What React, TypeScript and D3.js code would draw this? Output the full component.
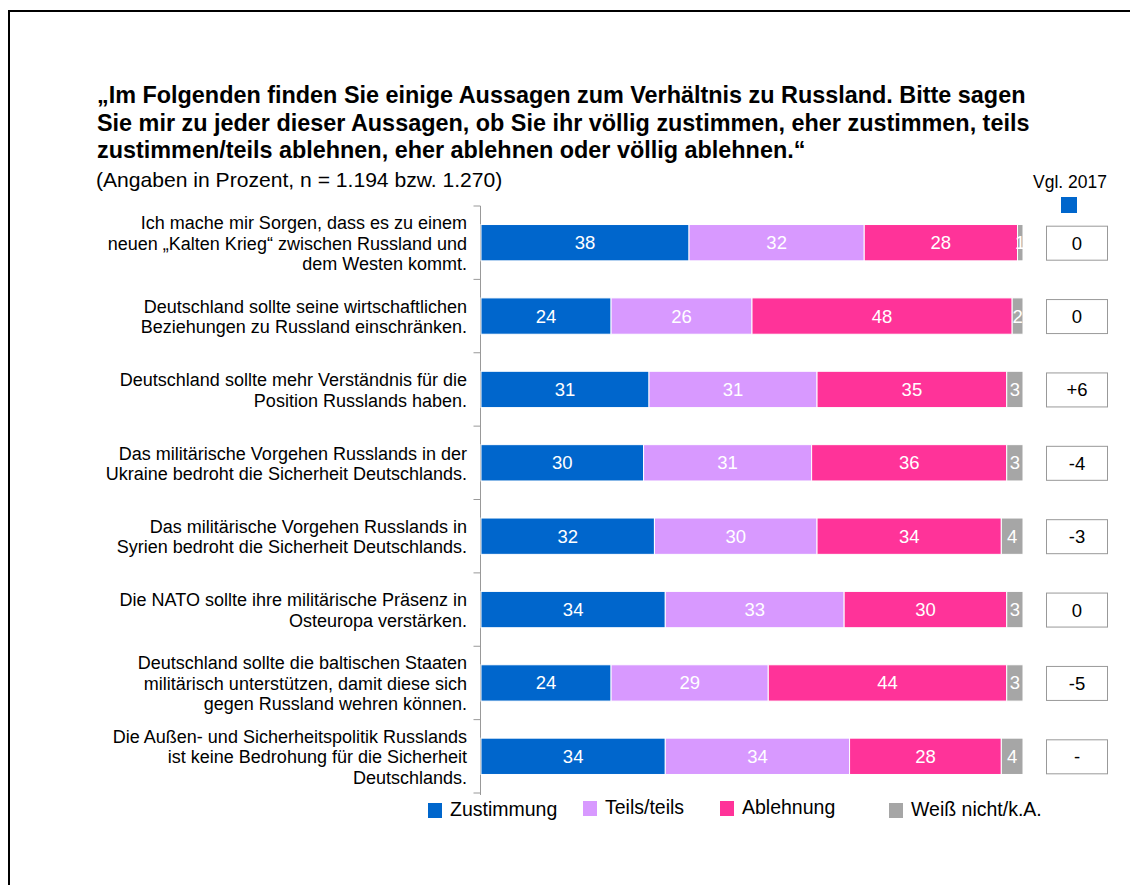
import React from "react";
import * as d3 from "d3";

const categories: string[][] = [
  ["Ich mache mir Sorgen, dass es zu einem", "neuen „Kalten Krieg“ zwischen Russland und", "dem Westen kommt."],
  ["Deutschland sollte seine wirtschaftlichen", "Beziehungen zu Russland einschränken."],
  ["Deutschland sollte mehr Verständnis für die", "Position Russlands haben."],
  ["Das militärische Vorgehen Russlands in der", "Ukraine bedroht die Sicherheit Deutschlands."],
  ["Das militärische Vorgehen Russlands in", "Syrien bedroht die Sicherheit Deutschlands."],
  ["Die NATO sollte ihre militärische Präsenz in", "Osteuropa verstärken."],
  ["Deutschland sollte die baltischen Staaten", "militärisch unterstützen, damit diese sich", "gegen Russland wehren können."],
  ["Die Außen- und Sicherheitspolitik Russlands", "ist keine Bedrohung für die Sicherheit", "Deutschlands."],
];

const zustimmung = [38, 24, 31, 30, 32, 34, 24, 34];
const teils = [32, 26, 31, 31, 30, 33, 29, 34];
const ablehnung = [28, 48, 35, 36, 34, 30, 44, 28];
const weissNicht = [1, 2, 3, 3, 4, 3, 3, 4];
const vgl2017 = ["0", "0", "+6", "-4", "-3", "0", "-5", "-"];

const seriesNames = ["Zustimmung", "Teils/teils", "Ablehnung", "Weiß nicht/k.A."];
const seriesColors = ["#0066CC", "#D899FF", "#FF3399", "#A6A6A6"];

const titleLines = [
  "„Im Folgenden finden Sie einige Aussagen zum Verhältnis zu Russland. Bitte sagen",
  "Sie mir zu jeder dieser Aussagen, ob Sie ihr völlig zustimmen, eher zustimmen, teils",
  "zustimmen/teils ablehnen, eher ablehnen oder völlig ablehnen.“",
];
const subtitle = "(Angaben in Prozent, n = 1.194 bzw. 1.270)";
const vglTitle = "Vgl. 2017";

const FONT = "'Liberation Sans', Arial, Helvetica, sans-serif";

export default function App() {
  const W = 1130;
  const H = 885;
  const axisX = 480.5;
  const barRight = 1023;
  const top = 206;
  const bottom = 793;

  const idx = d3.range(categories.length);
  const y = d3.scaleBand<number>().domain(idx).range([top, bottom]).paddingInner(0.505).paddingOuter(0.2525);
  const x = d3.scaleLinear().domain([0, 100]).range([axisX + 0.5, barRight]);

  const rows = idx.map((i) => {
    const vals = [zustimmung[i], teils[i], ablehnung[i], weissNicht[i]];
    const total = d3.sum(vals);
    let acc = 0;
    return vals.map((v, k) => {
      const x0 = (acc / total) * 100;
      acc += v;
      const x1 = (acc / total) * 100;
      return { v, k, x0, x1 };
    });
  });

  const step = (bottom - top) / categories.length;
  const ticks = d3.range(categories.length + 1).map((j) => top + j * step);

  const legendX = [428, 583, 720, 889];
  const legendDy = [0, -2, -2, 0];

  return (
    <div style={{ position: "fixed", left: 0, top: 0 }}>
      <svg width={W} height={H} style={{ display: "block", fontFamily: FONT }}>
        <rect x={0} y={0} width={W} height={H} fill="#fff" />
        <rect x={9} y={11} width={1300} height={1000} fill="none" stroke="#000" strokeWidth={2} />

        {titleLines.map((t, i) => (
          <text key={i} x={97} y={103 + i * 27.5} fontSize={23.4} fontWeight="bold" fill="#000">
            {t}
          </text>
        ))}
        <text x={96} y={187} fontSize={21.1} fill="#000">
          {subtitle}
        </text>

        <text x={1070} y={188} fontSize={17.5} textAnchor="middle" fill="#000">
          {vglTitle}
        </text>
        <rect x={1061} y={197} width={16} height={16} fill={seriesColors[0]} />

        {/* axis */}
        <line x1={axisX} x2={axisX} y1={top} y2={bottom + 2} stroke="#999" strokeWidth={1} />
        {ticks.map((t, i) => (
          <line key={i} x1={axisX - 7} x2={axisX} y1={t} y2={t} stroke="#999" strokeWidth={1} />
        ))}

        {idx.map((i) => {
          const by = y(i)!;
          const bh = y.bandwidth();
          const cy = by + bh / 2;
          const lines = categories[i];
          const lh = 20.5;
          return (
            <g key={i}>
              {lines.map((l, j) => (
                <text
                  key={j}
                  x={467}
                  y={cy + (j - (lines.length - 1) / 2) * lh + 7}
                  fontSize={18}
                  textAnchor="end"
                  fill="#000"
                >
                  {l}
                </text>
              ))}
              {rows[i].map((s) => (
                <g key={s.k}>
                  <rect
                    x={x(s.x0)}
                    y={by}
                    width={x(s.x1) - x(s.x0)}
                    height={bh}
                    fill={seriesColors[s.k]}
                    stroke="#fff"
                    strokeWidth={1}
                  />
                  <text
                    x={(x(s.x0) + x(s.x1)) / 2}
                    y={cy + 6.5}
                    fontSize={18.5}
                    textAnchor="middle"
                    fill="#fff"
                  >
                    {s.v}
                  </text>
                </g>
              ))}
              <rect x={1046.5} y={cy - 16.5} width={61} height={34} fill="#fff" stroke="#999" strokeWidth={1} />
              <text x={1077} y={cy + 7} fontSize={18.5} textAnchor="middle" fill="#000">
                {vgl2017[i]}
              </text>
            </g>
          );
        })}

        {seriesNames.map((n, k) => (
          <g key={n}>
            <rect x={legendX[k]} y={803 + legendDy[k]} width={14} height={15} fill={seriesColors[k]} />
            <text x={legendX[k] + 22} y={816 + legendDy[k]} fontSize={19.5} fill="#000">
              {n}
            </text>
          </g>
        ))}
      </svg>
    </div>
  );
}
